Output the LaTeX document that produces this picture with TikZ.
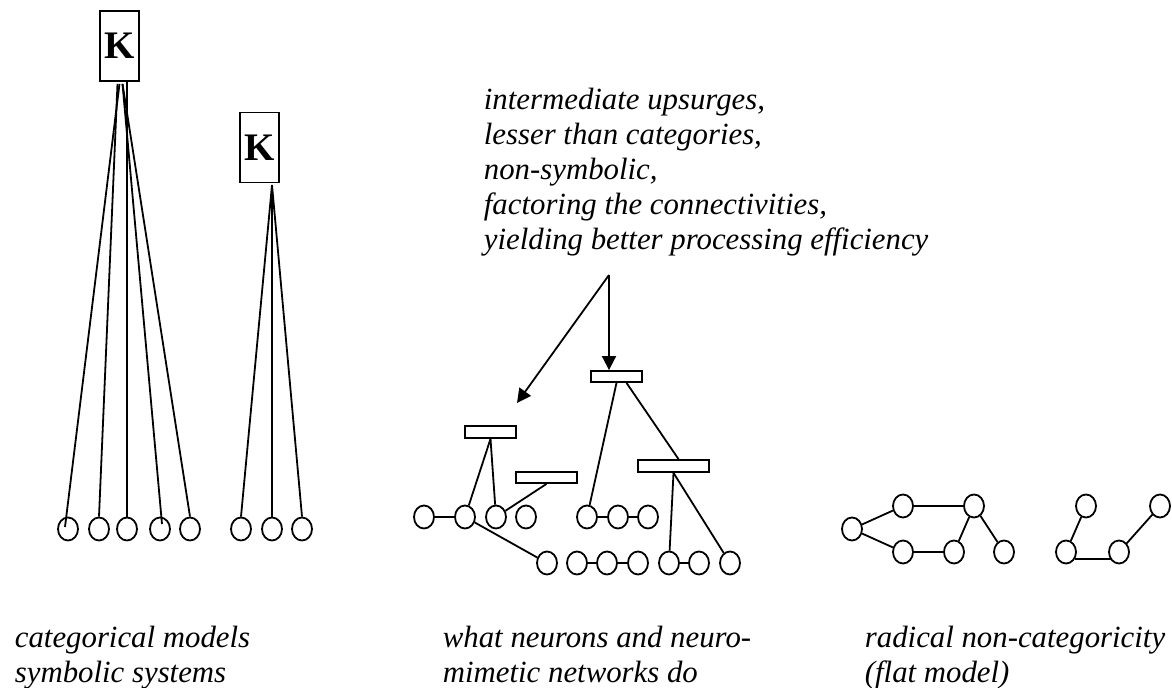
\documentclass[tikz,border=0pt]{standalone}
\usepackage{fontspec}
\setmainfont{Liberation Serif}
\usetikzlibrary{arrows.meta,shapes.geometric}

\begin{document}
\begin{tikzpicture}[x=0.5pt, y=-0.5pt, line width=0.9pt,
    unit/.style={draw, ellipse, minimum width=10pt, minimum height=11.5pt, inner sep=0pt},
    bar/.style={draw, fill=white, inner sep=0pt},
    kbox/.style={draw, inner sep=0pt, minimum width=19.5pt, minimum height=35pt,
      font=\fontsize{19.5}{20}\selectfont\bfseries},
    caption/.style={anchor=north west, inner sep=0pt, align=left,
      font=\fontsize{15.4}{17.5}\selectfont\itshape},
    arr/.style={-{Triangle[length=7pt,width=7pt]}}]
  \useasboundingbox (0,0) rectangle (1172,688);

  % categorical models
  \node[kbox] (k1) at (119.5,46) {K};
  \node[kbox] (k2) at (259.5,147.5) {K};
  \node[unit] (l1) at (68,529) {};
  \node[unit] (l2) at (99,529) {};
  \node[unit] (l3) at (127,529) {};
  \node[unit] (l4) at (160,529) {};
  \node[unit] (l5) at (190,529) {};
  \node[unit] (m1) at (241,529) {};
  \node[unit] (m2) at (272,529) {};
  \node[unit] (m3) at (302,529) {};
  \draw ([yshift=-1pt]k1.south) -- ([xshift=-1.5pt,yshift=1pt]l1.center);
  \draw ([xshift=-1pt,yshift=-1pt]k1.south) -- (l2.north);
  \draw (k1.south -| l3.north) -- (l3.north);
  \draw ([xshift=1.5pt,yshift=-1pt]k1.south) -- ([xshift=1pt,yshift=2.5pt]l4.center);
  \draw ([xshift=1.5pt,yshift=-1pt]k1.south) -- (l5.north);
  \coordinate (k2root) at (272,185);
  \foreach \m in {m1,m2,m3}
    \draw (k2root) -- (\m.north);

  % neuro-mimetic network
  \node[bar, minimum width=25.5pt, minimum height=6pt] (barA) at (490.5,432) {};
  \node[bar, minimum width=30.5pt, minimum height=5.5pt] (barB) at (546.5,477.5) {};
  \node[bar, minimum width=25.5pt, minimum height=5.5pt] (barC) at (616.5,376.5) {};
  \node[bar, minimum width=35.5pt, minimum height=6pt] (barD) at (673.5,466) {};
  \foreach \x [count=\i] in {424,465,496,526,587,618,648}
    \node[unit] (n\i) at (\x,517) {};
  \foreach \x [count=\i] in {547,577,607,638,669,699,730}
    \node[unit] (p\i) at (\x,563) {};
  \draw (n1) -- (n2);
  \draw (barA.south) -- (n2);
  \draw (barA.south) -- (n3);
  \draw (barB.south) -- (n3);
  \draw (n2) -- (p1);
  \draw (barC.south) -- (n5);
  \draw ([xshift=5pt]barC.south) -- ([xshift=2.5pt]barD.north);
  \draw (n5) -- (n6) -- (n7);
  \draw (p2) -- (p3) -- (p4);
  \draw (p5) -- (p6);
  \draw (barD.south) -- (p5);
  \draw (barD.south) -- (p7);

  \coordinate (src) at (609,275);
  \coordinate (tipA) at (517,403);
  \draw[arr] (src) -- (tipA);
  \draw[arr] (src) -- (src |- barC.north);

  % flat model
  \node[unit] (f1) at (852,529) {};
  \node[unit] (f2) at (903,506) {};
  \node[unit] (f3) at (974,506) {};
  \node[unit] (f4) at (903,552) {};
  \node[unit] (f5) at (954,552) {};
  \node[unit] (f6) at (1004,552) {};
  \node[unit] (g1) at (1086,506) {};
  \node[unit] (g2) at (1066,552) {};
  \node[unit] (g3) at (1119,552) {};
  \node[unit] (g4) at (1160,506) {};
  \draw (f4) -- (f1) -- (f2) -- (f3) -- (f6);
  \draw (f4) -- (f5) -- (f3);
  \draw (g1) -- (g2);
  \draw ([xshift=4.5pt,yshift=-3.5pt]g2.center) -- ([xshift=-3.5pt,yshift=-3.5pt]g3.center);
  \draw (g3) -- (g4);

  % texts
  \node[caption] (upsurge) at (483,87) {intermediate upsurges,\\lesser than categories,\\non-symbolic,\\factoring the connectivities,\\yielding better processing efficiency};
  \node[caption] (capcat) at (14,625) {categorical models\\symbolic systems};
  \node[caption] (capneuro) at (442,625) {what neurons and neuro-\\mimetic networks do};
  \node[caption] (capflat) at (864,625) {radical non-categoricity\\(flat model)};
\end{tikzpicture}
\end{document}
